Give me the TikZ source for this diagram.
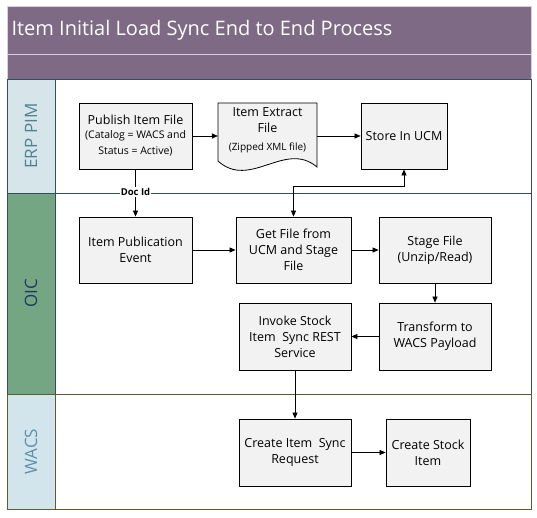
\documentclass[tikz,border=0pt]{standalone}
\usepackage{fontspec}
\setmainfont{Open Sans}
\usetikzlibrary{arrows.meta}
\definecolor{titlepurple}{HTML}{7E6A85}
\definecolor{titleline}{HTML}{D9CEDC}
\definecolor{erpfill}{HTML}{D5E5EA}
\definecolor{erptext}{HTML}{4F8290}
\definecolor{oicfill}{HTML}{74A683}
\definecolor{oictext}{HTML}{1F3A5F}
\definecolor{wacsfill}{HTML}{D3E5EC}
\definecolor{wacstext}{HTML}{5E90A8}
\definecolor{erpline}{HTML}{30505C}
\definecolor{wacsline}{HTML}{5D5E2C}
\definecolor{boxgray}{HTML}{F2F2F2}
\newcommand{\smalltxt}{\fontsize{10.5}{14}\selectfont}
\begin{document}
\begin{tikzpicture}[x=1pt, y=-1pt,
		box/.style={draw=black, fill=boxgray, line width=0.8pt, align=center, inner sep=1pt, font=\fontsize{12.5}{16}\selectfont},
		flow/.style={-{Triangle[length=6pt,width=5pt]}, line width=0.7pt}]
	\useasboundingbox (0,0) rectangle (537,518);
	\fill[titlepurple] (7,6) rectangle (531,79);
	\draw[titleline] (7,54) -- (531,54);
	\draw[titleline] (7,6) rectangle (531,79);
	\node[anchor=west, text=white, font=\fontsize{20}{22}\selectfont] (title) at (8,30) {Item Initial Load Sync End to End Process};
	
	% Carriles
	\foreach \ltop/\lbot/\lname/\lfill/\ltext/\lline [count=\i] in {79/193/ERP PIM/erpfill/erptext/erpline, 193/394/OIC/oicfill/oictext/erpline, 394/509/WACS/wacsfill/wacstext/wacsline} {
		\draw[\lline, fill=white] (55,\ltop) rectangle (531,\lbot);
		\draw[\lline, fill=\lfill] (7,\ltop) rectangle (55,\lbot);
		\node[rotate=90, text=\ltext, font=\fontsize{17}{19}\selectfont] (lane\i) at (31,{(\ltop+\lbot)/2}) {\lname};
	}
	
	\node[box, minimum width=113pt, minimum height=66pt] (pub) at (135.5,136) {Publish Item File\\[-2pt]\smalltxt (Catalog = WACS and\\\smalltxt Status = Active)};
	\draw[fill=boxgray, line width=0.8pt] (218,103) -- (317,103) -- (317,167) .. controls (285,140) and (250,190) .. (218,161) -- cycle;
	\node[align=center, font=\fontsize{12.5}{16}\selectfont, minimum width=99pt, minimum height=50pt, inner sep=1pt] (ext) at (267.5,130) {Item Extract\\File\\[2pt]\fontsize{10}{14}\selectfont (Zipped XML file)};
	\node[box, minimum width=86pt, minimum height=66pt] (ucm) at (404,136) {Store In UCM};
	\node[box, minimum width=113pt, minimum height=66pt] (ipe) at (135.5,250) {Item Publication\\Event};
	\node[box, minimum width=115pt, minimum height=66pt] (get) at (293.5,250) {Get File from\\UCM and Stage\\File};
	\node[box, minimum width=112pt, minimum height=66pt] (stg) at (435,250) {Stage File\\(Unzip/Read)};
	\node[box, minimum width=112pt, minimum height=67pt] (trn) at (435,336.5) {Transform to\\WACS Payload};
	\node[box, minimum width=112pt, minimum height=67pt] (inv) at (295,336.5) {Invoke Stock\\Item~ Sync REST\\Service};
	\node[box, minimum width=112pt, minimum height=67pt] (cis) at (295,452.5) {Create Item~ Sync\\Request};
	\node[box, minimum width=84pt, minimum height=67pt] (csi) at (428,452.5) {Create Stock\\Item};
	
	\draw[flow] (pub.east) -- (pub.east -| ext.west);
	\draw[flow] (pub.east -| ext.east) -- (ucm.west);
	\draw[flow] (pub.south) -- node[pos=0.48, fill=white, inner sep=1pt, font=\bfseries\fontsize{9.5}{11}\selectfont] (docid) {Doc Id} (ipe.north);
	\draw[flow, {Triangle[length=6pt,width=5pt]}-{Triangle[length=6pt,width=5pt]}] (get.north) -- ++(0,-30) -| (ucm.south);
	\draw[flow] (ipe.east) -- (get.west);
	\draw[flow] (get.east) -- (stg.west);
	\draw[flow] (stg.south) -- (trn.north);
	\draw[flow] (trn.west) -- (inv.east);
	\draw[flow] (inv.south) -- (cis.north);
	\draw[flow] (cis.east) -- (csi.west);
\end{tikzpicture}
\end{document}
